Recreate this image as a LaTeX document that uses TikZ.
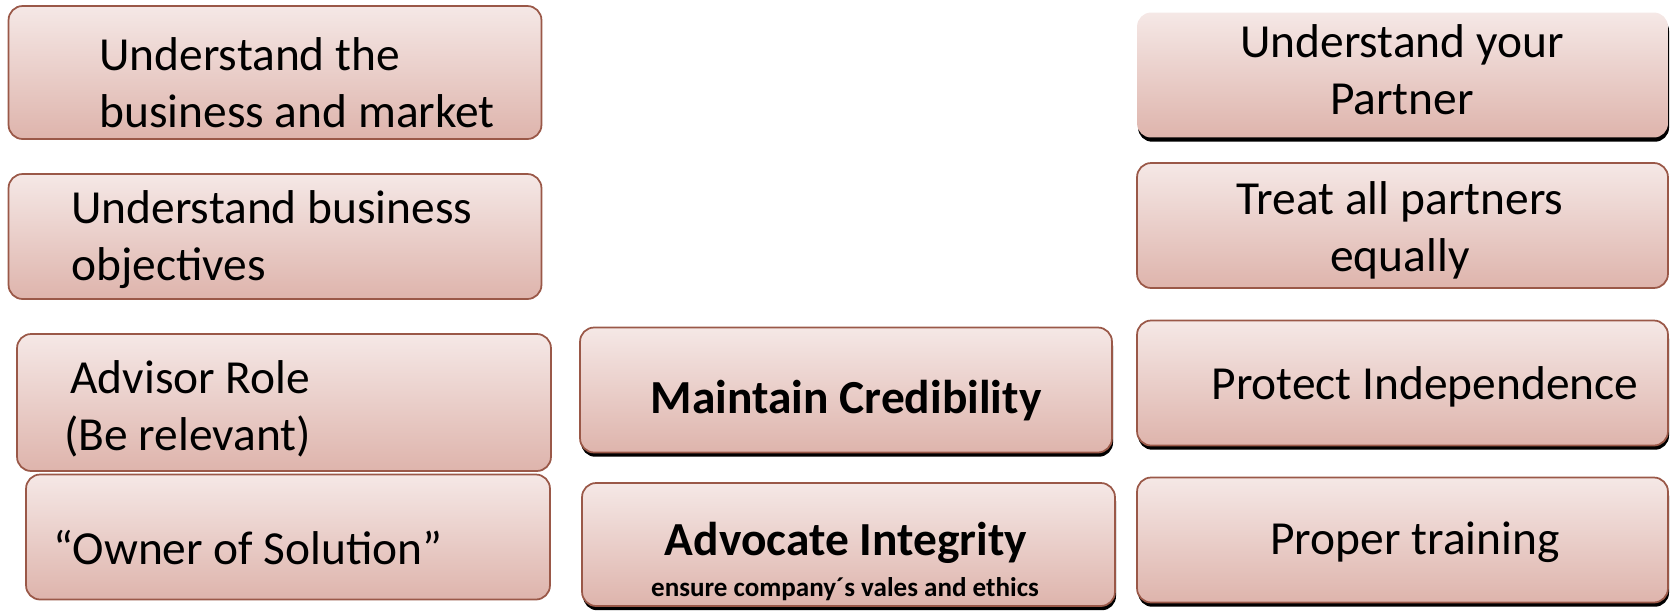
\documentclass[tikz,border=0pt]{standalone}
\usepackage{fontspec}
\setmainfont{Carlito}
\usetikzlibrary{shadows}

\definecolor{boxtop}{RGB}{245,232,230}
\definecolor{boxbot}{RGB}{222,180,172}
\definecolor{boxline}{RGB}{154,88,72}

\begin{document}
\begin{tikzpicture}[x=0.02cm, y=-0.02cm,
  box/.style={rectangle, rounded corners=8pt, draw=boxline, line width=1pt,
    top color=boxtop, bottom color=boxbot,
    minimum width=10.66cm, minimum height=2.5cm, inner sep=0pt},
  shadowed/.style={drop shadow={shadow xshift=0.6pt, shadow yshift=-2.4pt,
    fill=black, opacity=1}},
  noline/.style={draw=none},
  txt/.style={font=\fontsize{27}{32.5}\selectfont, align=left, inner sep=0pt},
  ctxt/.style={font=\fontsize{27}{32.5}\selectfont, align=center, inner sep=0pt},
  btxt/.style={font=\fontsize{27}{32.5}\selectfont\bfseries, inner sep=0pt}]

  \useasboundingbox (0,0) rectangle (1673,610);

  % Left column: understanding the business
  \node[box, minimum height=2.66cm] (market) at (275,72.5) {};
  \node[box] (objectives) at (275,236.5) {};
  \node[box, minimum height=2.74cm, minimum width=10.68cm] (advisor) at (284,402.5) {};
  \node[box, minimum width=10.48cm] (owner) at (288,537) {};

  \node[txt, anchor=west] (tmarket) at (99,83) {Understand the\\business and market};
  \node[txt, anchor=west] (tobjectives) at (71,240) {Understand business\\objectives};
  \node[txt, anchor=west] (tadvisor) at (64,409) {\hspace*{0.12cm}Advisor Role\\(Be relevant)};
  \node[txt, anchor=west] (towner) at (53,548) {“Owner of Solution”};

  % Middle column
  \node[box, shadowed, minimum width=10.64cm] (credibility) at (846,390) {};
  \node[box, shadowed, minimum height=2.46cm] (integrity) at (848.5,544.5) {};

  \node[btxt] (tcredibility) at (846,401) {Maintain Credibility};
  \node[btxt] (tintegrity) at (846,542.5) {Advocate Integrity};
  \node[font=\fontsize{15.4}{18}\selectfont\bfseries, inner sep=0pt] (tethics)
    at (845,589) {ensure company´s vales and ethics};

  % Right column: partners
  \node[box, shadowed, noline, minimum width=10.62cm] (partner) at (1402.5,75) {};
  \node[box, minimum width=10.62cm] (equally) at (1402.5,225.5) {};
  \node[box, shadowed, minimum width=10.62cm] (independence) at (1402.5,383) {};
  \node[box, shadowed, minimum width=10.62cm] (training) at (1402.5,540) {};

  \node[ctxt] (tpartner) at (1402,70) {Understand your\\Partner};
  \node[ctxt] (tequally) at (1400,230) {Treat all partners\\equally};
  \node[ctxt] (tindependence) at (1425,387) {Protect Independence};
  \node[ctxt] (ttraining) at (1415,542) {Proper training};
\end{tikzpicture}
\end{document}
